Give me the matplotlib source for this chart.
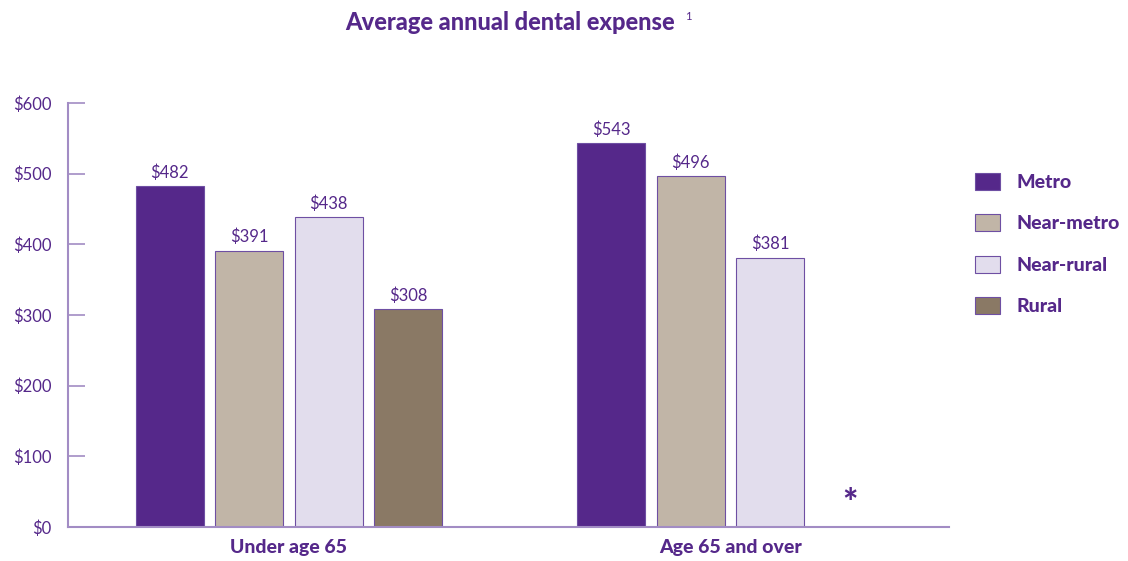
import matplotlib.pyplot as plt
import numpy as np

PURPLE = '#55288A'
AXIS = '#A28CC4'
EDGE = '#6E4FA3'

groups = ['Under age 65', 'Age 65 and over']
series = ['Metro', 'Near-metro', 'Near-rural', 'Rural']
colors = ['#55288A', '#C1B5A7', '#E2DDED', '#8A7965']
values = {
    'Metro':      [482, 543],
    'Near-metro': [391, 496],
    'Near-rural': [438, 381],
    'Rural':      [308, np.nan],   # * suppressed for 65+
}

plt.rcParams['font.family'] = ['Lato', 'DejaVu Sans']

fig = plt.figure(figsize=(11.28, 5.61), dpi=100)
ax = fig.add_axes([68 / 1128, 1 - 527 / 561, (949 - 68) / 1128, (527 - 103) / 561])

x = np.arange(len(groups))
pitch = 0.18
width = 0.154
handles = []
for i, (name, col) in enumerate(zip(series, colors)):
    vals = np.array(values[name], dtype=float)
    pos = x + (i - 1.5) * pitch
    bars = ax.bar(pos, np.nan_to_num(vals), width, color=col,
                  edgecolor=EDGE, linewidth=0.8, label=name)
    labels = ['' if np.isnan(v) else f'${int(v)}' for v in vals]
    ax.bar_label(bars, labels=labels, padding=4, fontsize=12, color=PURPLE)
    for j, v in enumerate(vals):
        if np.isnan(v):
            bars[j].set_visible(False)
            ax.text(pos[j], 32, '*', ha='center', va='center', fontsize=26,
                    fontweight='black', color=PURPLE)
    handles.append(bars)

ax.set_xlim(-0.5, 1.495)
ax.set_ylim(0, 600)
ax.set_yticks(range(0, 601, 100))
ax.set_yticklabels([f'${v}' for v in range(0, 601, 100)], fontsize=12, color=PURPLE)
ax.tick_params(axis='y', direction='in', length=12, width=1.2, color=AXIS, pad=12)
ax.set_xticks(x)
ax.set_xticklabels(groups, fontsize=14, fontweight='black', color=PURPLE)
ax.tick_params(axis='x', length=0, pad=9)

for s in ['top', 'right']:
    ax.spines[s].set_visible(False)
for s in ['left', 'bottom']:
    ax.spines[s].set_color(AXIS)
    ax.spines[s].set_linewidth(1.5)

fig.text(510 / 1128, 1 - 22 / 561, 'Average annual dental expense', ha='center',
         va='center', fontsize=17, fontweight='black', color=PURPLE)
fig.text(688 / 1128, 1 - 17 / 561, '1', ha='center', va='center',
         fontsize=8, color=PURPLE)

leg = fig.legend(handles=handles, labels=series, loc='upper left',
                 bbox_to_anchor=(975 / 1128, 1 - 173 / 561), frameon=False,
                 borderpad=0, borderaxespad=0,
                 handlelength=1.3, handleheight=0.95, handletextpad=0.85,
                 labelspacing=1.2, fontsize=14)
for t in leg.get_texts():
    t.set_fontweight('black')
    t.set_color(PURPLE)

fig.savefig('out.png', dpi=100)
